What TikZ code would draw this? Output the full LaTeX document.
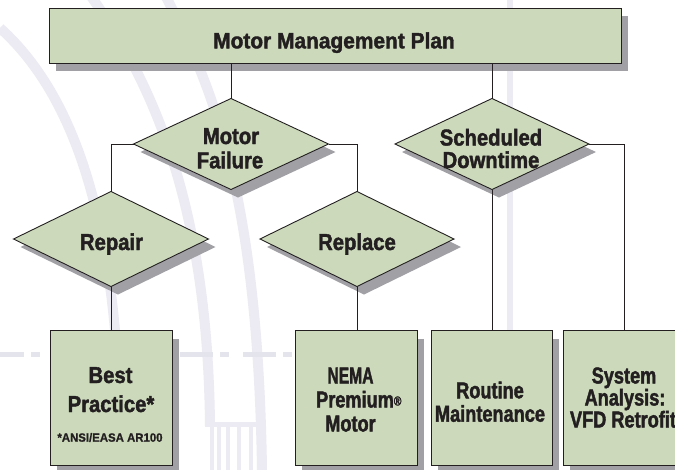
\documentclass[tikz,border=0pt]{standalone}
\usepackage{fontspec}
\setmainfont{Liberation Sans}
\newfontfamily\fTop{Liberation Sans}[FakeStretch=0.95, BoldFeatures={FakeStretch=0.95,FakeBold=1.8}]
\newfontfamily\fD{Liberation Sans}[FakeStretch=0.88, BoldFeatures={FakeStretch=0.88,FakeBold=1.8}]
\newfontfamily\fB{Liberation Sans}[FakeStretch=0.79, BoldFeatures={FakeStretch=0.79,FakeBold=1.8}]
\newfontfamily\fS{Liberation Sans}[FakeStretch=0.95, BoldFeatures={FakeStretch=0.95,FakeBold=1}]
\usetikzlibrary{shapes.geometric,shadows}
\definecolor{boxgreen}{RGB}{204,218,187}
\definecolor{shgray}{RGB}{160,160,165}
\definecolor{wm}{RGB}{236,235,243}
\definecolor{wmdash}{RGB}{228,228,236}
\definecolor{ink}{RGB}{35,31,32}
\begin{document}
\begin{tikzpicture}[x=1pt,y=-1pt,
  shp/.style={fill=boxgreen, draw=ink, line width=0.9pt, inner sep=0pt, outer sep=0pt,
    drop shadow={opacity=1, fill=shgray, shadow xshift=7pt, shadow yshift=-8pt}},
  rbox/.style={shp, rectangle},
  dia/.style={shp, diamond},
  conn/.style={draw=ink, line width=0.8pt},
  wmband/.style={draw=wm, line width=10pt},
  tTop/.style={text=ink, inner sep=0pt, anchor=base, font=\fTop\bfseries\fontsize{22pt}{22pt}\selectfont},
  tD/.style={text=ink, inner sep=0pt, anchor=base, font=\fD\bfseries\fontsize{23pt}{23pt}\selectfont},
  tB/.style={text=ink, inner sep=0pt, anchor=base, font=\fB\bfseries\fontsize{23pt}{23pt}\selectfont},
  tS/.style={text=ink, inner sep=0pt, anchor=base, font=\fS\bfseries\fontsize{12pt}{12pt}\selectfont}]
\useasboundingbox (0,0) rectangle (675,469);
\clip (0,0) rectangle (675,469);
\fill[white] (0,0) rectangle (675,469);
% watermark
\draw[wmband] (0,28) .. controls (80,100) and (122,240) .. (120,469);
\draw[wmband] (90,-5) .. controls (155,85) and (208,210) .. (210,426);
\draw[wmband] (165,-5) .. controls (215,90) and (258,200) .. (262,470);
\draw[draw=wm, line width=5.5pt] (510,0) -- (510,469);
\draw[draw=wm, line width=5pt] (205,424) -- (266,424);
\foreach \x in {212,219,228,239,251,261} \draw[draw=wm, line width=3.5pt] (\x,424) -- (\x,470);
\draw[draw=wmdash, line width=5pt, dash pattern=on 33pt off 7pt on 9pt off 14pt, dash phase=9pt] (0,354) -- (296,354);
% shapes
\node[rbox, minimum width=572pt, minimum height=55pt] (plan) at (335,35.5) {};
\node[dia, minimum width=195pt, minimum height=91pt] (mf) at (231,144) {};
\node[dia, minimum width=194pt, minimum height=91pt] (sd) at (492,144) {};
\node[dia, minimum width=195pt, minimum height=95pt] (rep) at (111,239) {};
\node[dia, minimum width=194pt, minimum height=95pt] (repl) at (357,239) {};
\node[rbox, minimum width=122pt, minimum height=135pt] (bp) at (111,398) {};
\node[rbox, minimum width=122pt, minimum height=135pt] (nema) at (356,398) {};
\node[rbox, minimum width=121pt, minimum height=135pt] (rout) at (491.5,398) {};
\node[rbox, minimum width=122pt, minimum height=135pt] (sys) at (624,398) {};
% connectors
\draw[conn] (plan.south -| mf.north) -- (mf.north);
\draw[conn] (plan.south -| sd.north) -- (sd.north);
\draw[conn] (mf.west) -| (rep.north);
\draw[conn] (mf.east) -| (repl.north);
\draw[conn] (sd.east) -| (sys.north);
\draw[conn] (sd.south) -- (sd.south |- rout.north);
\draw[conn] (rep.south) -- (bp.north);
\draw[conn] (repl.south) -- (repl.south |- nema.north);
% texts
\node[tTop] (tplan) at (334,48.3) {Motor Management Plan};
\node[tD] (tmf1) at (231,144) {Motor};
\node[tD] (tmf2) at (230,168.3) {Failure};
\node[tD] (tsd1) at (491,145.5) {Scheduled};
\node[tD] (tsd2) at (491,168) {Downtime};
\node[tD] (trep) at (111.5,250) {Repair};
\node[tD] (trepl) at (357,250) {Replace};
\node[tD] (tbp1) at (110.5,383) {Best};
\node[tD] (tbp2) at (111,412) {Practice*};
\node[tS] (tbp3) at (110,441.7) {*ANSI/EASA AR100};
\node[tB] (tn1) at (350.5,383.5) {\scalebox{0.86}[1]{NEMA}};
\node[tB] (tn2) at (355,407.5) {Premium\rlap{\fontsize{13pt}{13pt}\selectfont\raisebox{2pt}{®}}};
\node[tB] (tn3) at (350.5,431.5) {Motor};
\node[tB] (tr1) at (490,398.3) {Routine};
\node[tB] (tr2) at (490,421.7) {Maintenance};
\node[tB] (ts1) at (624,383.5) {System};
\node[tB] (ts2) at (625,405.5) {Analysis:};
\node[tB] (ts3) at (623,427.5) {VFD Retrofit};
\end{tikzpicture}
\end{document}
